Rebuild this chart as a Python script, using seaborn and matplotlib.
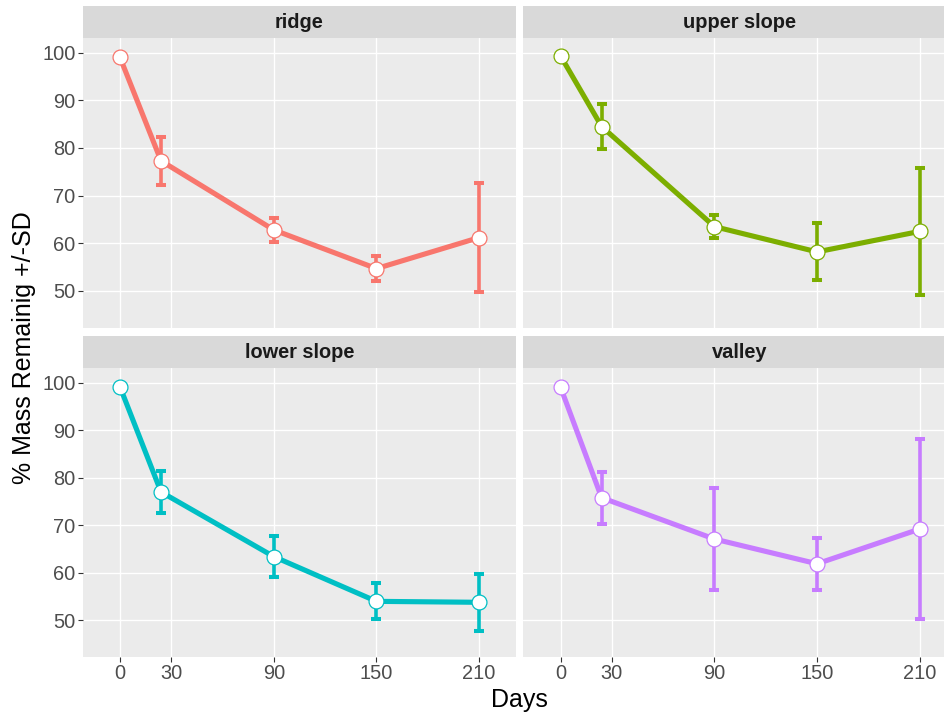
import numpy as np
import pandas as pd
import matplotlib
matplotlib.use("Agg")
import matplotlib.pyplot as plt
import seaborn as sns

# ---- data ----
days = [0, 24, 90, 150, 210]
sites = ["ridge", "upper slope", "lower slope", "valley"]
ridge_mean = [99.0, 77.3, 62.8, 54.7, 61.2]
ridge_sd = [0.0, 5.0, 2.5, 2.7, 11.5]
upper_mean = [99.3, 84.5, 63.5, 58.2, 62.5]
upper_sd = [0.0, 4.7, 2.4, 6.0, 13.4]
lower_mean = [99.1, 77.0, 63.4, 54.0, 53.8]
lower_sd = [0.0, 4.5, 4.3, 3.8, 6.0]
valley_mean = [99.0, 75.8, 67.1, 61.9, 69.2]
valley_sd = [0.0, 5.5, 10.7, 5.5, 19.0]
x_ticks = [0, 30, 90, 150, 210]
y_ticks = [50, 60, 70, 80, 90, 100]
colors = ["#F8766D", "#7CAE00", "#00BFC4", "#C77CFF"]

means = [ridge_mean, upper_mean, lower_mean, valley_mean]
sds = [ridge_sd, upper_sd, lower_sd, valley_sd]
df = pd.concat([
    pd.DataFrame({"site": s, "Days": days, "Mass": m, "SD": sd})
    for s, m, sd in zip(sites, means, sds)
], ignore_index=True)

sns.set_theme(style="darkgrid")
plt.rcParams["font.family"] = ["Liberation Sans", "DejaVu Sans"]

W, H = 944, 716
fig = plt.figure(figsize=(W / 100, H / 100), dpi=100)


def rect(l, t, r, b):
    return [l / W, 1 - b / H, (r - l) / W, (b - t) / H]


pw = 516 - 82.7
cols = [(82.7, 82.7 + pw), (523.3, 523.3 + pw)]
rows = [(38.3, 327.7), (368.3, 657.0)]
strips = [(6.0, 38.3), (335.7, 368.3)]

for i, site in enumerate(sites):
    r, c = divmod(i, 2)
    l, rr = cols[c]
    t, b = rows[r]
    ax = fig.add_axes(rect(l, t, rr, b))
    ax.set_facecolor("#EBEBEB")
    for sp in ax.spines.values():
        sp.set_visible(False)
    ax.grid(True, color="white", linewidth=1.0)
    ax.set_axisbelow(True)
    sub = df[df["site"] == site]
    col = colors[i]
    ax.errorbar(sub["Days"], sub["Mass"], yerr=sub["SD"], fmt="none",
                ecolor=col, elinewidth=2.6, capsize=3.8, capthick=2.9, zorder=2)
    sns.lineplot(data=sub, x="Days", y="Mass", ax=ax, color=col, linewidth=3.7,
                 errorbar=None, zorder=3, solid_joinstyle="round", solid_capstyle="round")
    sns.scatterplot(data=sub, x="Days", y="Mass", ax=ax, marker="o", s=115,
                    facecolor="white", edgecolor=col, linewidth=0.9, zorder=4)
    ax.set_xlim(-21.8, 231.6)
    ax.set_ylim(42.3, 103.0)
    ax.set_xticks(x_ticks)
    ax.set_yticks(y_ticks)
    ax.set_xlabel("")
    ax.set_ylabel("")
    ax.tick_params(axis="both", which="major", length=3.3, width=0.8, color="#333333",
                   labelsize=14.4, labelcolor="#4D4D4D", pad=1.8,
                   left=(c == 0), bottom=(r == 1),
                   labelleft=(c == 0), labelbottom=(r == 1))
    # strip
    st, sb = strips[r]
    sax = fig.add_axes(rect(l, st, rr, sb))
    sax.set_facecolor("#D9D9D9")
    sax.grid(False)
    sax.set_xticks([])
    sax.set_yticks([])
    for sp in sax.spines.values():
        sp.set_visible(False)
    sax.text(0.5, 0.48, site, transform=sax.transAxes, ha="center", va="center",
             fontsize=14.4, fontweight="bold", color="#1A1A1A")

fig.text(519.7 / W, 1 - 707 / H, "Days", ha="center", va="baseline",
         fontsize=18, color="black")
fig.text(24 / W, 1 - 347.6 / H, "% Mass Remainig +/-SD", ha="center", va="center",
         rotation=90, fontsize=18, color="black")

fig.savefig("out.png", dpi=100)
